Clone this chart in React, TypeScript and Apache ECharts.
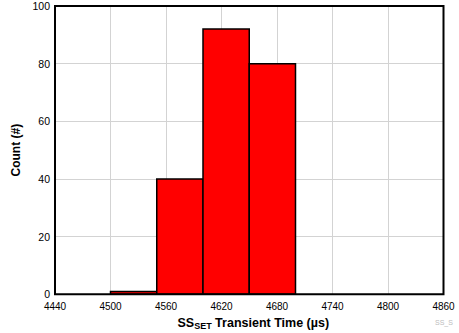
import React, { useEffect, useRef } from "react";
import * as echarts from "echarts";

const binStarts = [4500, 4550, 4600, 4650];
const binEnds = [4550, 4600, 4650, 4700];
const counts = [1, 40, 92, 80];
const xTicks = [4440, 4500, 4560, 4620, 4680, 4740, 4800, 4860];
const yTicks = [0, 20, 40, 60, 80, 100];

export default function App() {
  const ref = useRef<HTMLDivElement>(null);
  useEffect(() => {
    if (!ref.current) return;
    const chart = echarts.init(ref.current, undefined, { renderer: "svg" });
    const data = counts.map((c, i) => [binStarts[i], binEnds[i], c]);
    const font = "'Liberation Sans', Arial, sans-serif";
    chart.setOption({
      animation: false,
      backgroundColor: "#fff",
      textStyle: { fontFamily: font },
      grid: {
        left: 55,
        right: 15.5,
        top: 6,
        bottom: 38.7,
        outerBoundsMode: "none",
        containLabel: false,
        show: true,
        borderColor: "#000",
        borderWidth: 2,
        backgroundColor: "transparent",
        z: 10,
      },
      xAxis: {
        type: "value",
        min: xTicks[0],
        max: xTicks[xTicks.length - 1],
        interval: 60,
        axisLine: { show: false },
        axisTick: { show: false },
        splitLine: { show: true, lineStyle: { color: "#d3d3d3", width: 1 } },
        axisLabel: { color: "#000", fontSize: 10, margin: 7, fontFamily: font, formatter: (v: number) => String(v) },
        name: "{a|SS}{b|SET}{a| Transient Time (µs)}",
        nameLocation: "middle",
        nameGap: 18,
        nameTextStyle: {
          padding: [0, 0, 0, 8],
          rich: {
            a: { fontSize: 12.5, fontWeight: "bold", color: "#000", fontFamily: font, lineHeight: 15, verticalAlign: "bottom" },
            b: { fontSize: 9, fontWeight: "bold", color: "#000", fontFamily: font, lineHeight: 15, verticalAlign: "bottom", padding: [0, 0, -1, 0] },
          },
        },
      },
      yAxis: {
        type: "value",
        min: yTicks[0],
        max: yTicks[yTicks.length - 1],
        interval: 20,
        axisLine: { show: false },
        axisTick: { show: false },
        splitLine: { show: true, lineStyle: { color: "#d3d3d3", width: 1 } },
        axisLabel: { color: "#000", fontSize: 10.5, margin: 5, fontFamily: font },
        name: "Count (#)",
        nameLocation: "middle",
        nameRotate: 90,
        nameGap: 28,
        nameTextStyle: { fontSize: 12, fontWeight: "bold", color: "#000", fontFamily: font },
      },
      series: [
        {
          type: "custom",
          data,
          renderItem: (params: any, api: any) => {
            const p0 = api.coord([api.value(0), api.value(2)]);
            const p1 = api.coord([api.value(1), 0]);
            return {
              type: "rect",
              shape: { x: p0[0], y: p0[1], width: p1[0] - p0[0], height: p1[1] - p0[1] },
              style: { fill: "#ff0000", stroke: "#000", lineWidth: 1.5 },
            };
          },
          encode: { x: [0, 1], y: 2 },
        },
      ],
      graphic: [
        {
          type: "text",
          left: 435,
          top: 319,
          style: { text: "SS_S", fill: "#bdbdbd", fontSize: 7, fontFamily: font },
        },
      ],
    });
    return () => chart.dispose();
  }, []);
  return <div ref={ref} style={{ width: 459, height: 333, position: "absolute", left: 0, top: 0 }} />;
}
